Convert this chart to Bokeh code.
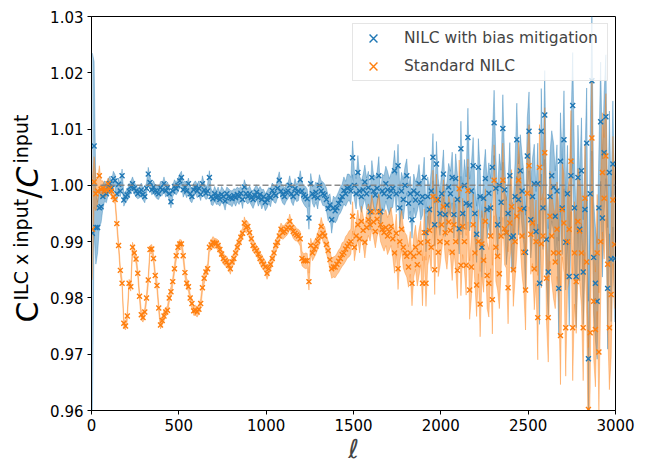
import numpy as np
from bokeh.plotting import figure
from bokeh.layouts import row
from bokeh.models import Span, Legend, LegendItem, Label, FixedTicker, NumeralTickFormatter, Range1d
from bokeh.embed import file_html
from bokeh.resources import INLINE

# multipole bin centres
ell = np.arange(5, 3000, 10)

series_labels = ["NILC with bias mitigation", "Standard NILC"]
x_ticks = [0, 500, 1000, 1500, 2000, 2500, 3000]
y_ticks = [0.96, 0.97, 0.98, 0.99, 1.00, 1.01, 1.02, 1.03]

blue_ratio = [
    0.9915, 1.0070, 0.9925, 0.9925, 0.9960, 0.9962, 0.9980, 0.9990, 0.9985, 0.9997,
    1.0003, 0.9995, 1.0012, 1.0008, 0.9985, 1.0002, 0.9990, 1.0017, 0.9974, 0.9980,
    0.9983, 0.9990, 0.9998, 1.0003, 0.9995, 0.9990, 0.9985, 0.9988, 0.9992, 0.9984,
    0.9980, 0.9995, 1.0020, 1.0005, 0.9992, 0.9997, 0.9990, 0.9988, 0.9985, 0.9996,
    0.9992, 1.0003, 0.9990, 0.9996, 0.9985, 0.9971, 0.9990, 0.9998, 0.9994, 1.0000,
    1.0008, 1.0014, 0.9992, 0.9997, 0.9990, 1.0003, 0.9985, 0.9980, 0.9992, 0.9997,
    0.9990, 0.9995, 0.9984, 1.0003, 0.9992, 0.9986, 0.9990, 1.0014, 0.9980, 0.9976,
    0.9985, 0.9978, 0.9982, 0.9975, 0.9984, 0.9980, 0.9972, 0.9985, 0.9980, 0.9978,
    0.9976, 0.9982, 0.9978, 0.9984, 0.9980, 0.9986, 0.9975, 0.9997, 0.9985, 0.9980,
    0.9985, 0.9978, 0.9975, 0.9982, 0.9988, 0.9978, 0.9984, 0.9975, 0.9980, 0.9970,
    0.9975, 0.9982, 0.9978, 0.9991, 0.9985, 0.9982, 0.9995, 1.0009, 0.9990, 0.9984,
    0.9980, 0.9988, 0.9990, 1.0000, 0.9985, 0.9980, 0.9994, 0.9986, 0.9990, 1.0010,
    0.9990, 0.9983, 0.9980, 0.9976, 0.9942, 1.0003, 0.9985, 0.9980, 0.9988, 0.9978,
    1.0000, 0.9990, 0.9985, 0.9983, 0.9975, 0.9959, 0.9965, 0.9939, 0.9960, 0.9955,
    0.9960, 0.9968, 0.9974, 0.9980, 0.9991, 0.9985, 0.9995, 0.9997, 0.9990, 1.0049,
    1.0000, 0.9985, 1.0023, 0.9990, 0.9980, 0.9992, 1.0006, 0.9985, 0.9996, 0.9953,
    1.0014, 0.9990, 0.9983, 0.9995, 1.0017, 0.9953, 0.9990, 0.9985, 1.0003, 0.9992,
    0.9980, 0.9990, 0.9995, 1.0026, 0.9985, 1.0035, 0.9960, 0.9990, 0.9975, 1.0000,
    1.0017, 0.9968, 0.9985, 0.9939, 0.9990, 0.9974, 0.9985, 1.0003, 0.9970, 0.9980,
    1.0014, 0.9916, 0.9980, 0.9957, 0.9990, 1.0050, 0.9930, 1.0038, 0.9975, 0.9950,
    0.9985, 1.0020, 0.9948, 0.9965, 0.9997, 0.9985, 1.0014, 0.9948, 1.0012, 0.9975,
    0.9923, 1.0065, 0.9950, 1.0000, 0.9968, 1.0085, 0.9965, 0.9990, 1.0035, 0.9950,
    0.9913, 1.0032, 0.9980, 0.9890, 0.9977, 1.0012, 0.9957, 0.9986, 0.9960, 1.0032,
    1.0111, 0.9995, 0.9930, 1.0000, 0.9970, 1.0101, 0.9992, 0.9916, 0.9950, 1.0017,
    0.9907, 0.9910, 0.9980, 1.0081, 0.9975, 1.0026, 0.9990, 0.9959, 0.9881, 1.0052,
    1.0096, 0.9939, 0.9980, 1.0003, 0.9918, 1.0003, 0.9826, 1.0096, 0.9960, 1.0125,
    0.9904, 0.9846, 0.9980, 1.0017, 0.9997, 0.9945, 0.9990, 0.9817, 1.0043, 0.9960,
    1.0081, 0.9899, 0.9985, 0.9838, 1.0017, 1.0142, 0.9960, 0.9838, 1.0014, 0.9922,
    1.0026, 0.9846, 0.9957, 1.0075, 0.9692, 0.9985, 1.0186, 0.9872, 0.9826, 0.9794,
    0.9960, 1.0113, 0.9942, 1.0058, 1.0122, 0.9817, 1.0023, 0.9869, 1.0038, 0.9870,
]

blue_err = [
    0.0320, 0.0150, 0.0065, 0.0045, 0.0035, 0.0028, 0.0022, 0.0018, 0.0016, 0.0014,
    0.0013, 0.0012, 0.0013, 0.0011, 0.0012, 0.0011, 0.0010, 0.0012, 0.0011, 0.0010,
    0.0010, 0.0011, 0.0009, 0.0012, 0.0010, 0.0011, 0.0009, 0.0010, 0.0012, 0.0010,
    0.0011, 0.0010, 0.0012, 0.0010, 0.0009, 0.0011, 0.0010, 0.0012, 0.0010, 0.0011,
    0.0010, 0.0012, 0.0011, 0.0010, 0.0012, 0.0011, 0.0010, 0.0012, 0.0011, 0.0012,
    0.0012, 0.0011, 0.0013, 0.0011, 0.0012, 0.0010, 0.0013, 0.0011, 0.0012, 0.0011,
    0.0012, 0.0013, 0.0011, 0.0014, 0.0012, 0.0011, 0.0013, 0.0012, 0.0014, 0.0012,
    0.0013, 0.0012, 0.0015, 0.0012, 0.0014, 0.0013, 0.0016, 0.0012, 0.0014, 0.0013,
    0.0014, 0.0012, 0.0015, 0.0013, 0.0014, 0.0012, 0.0016, 0.0013, 0.0015, 0.0013,
    0.0014, 0.0013, 0.0016, 0.0014, 0.0013, 0.0015, 0.0014, 0.0017, 0.0013, 0.0015,
    0.0015, 0.0014, 0.0016, 0.0013, 0.0015, 0.0014, 0.0017, 0.0015, 0.0014, 0.0016,
    0.0015, 0.0016, 0.0014, 0.0017, 0.0015, 0.0016, 0.0018, 0.0015, 0.0017, 0.0016,
    0.0017, 0.0016, 0.0018, 0.0017, 0.0020, 0.0018, 0.0017, 0.0019, 0.0018, 0.0020,
    0.0019, 0.0018, 0.0021, 0.0019, 0.0020, 0.0022, 0.0020, 0.0024, 0.0021, 0.0022,
    0.0022, 0.0021, 0.0023, 0.0022, 0.0024, 0.0022, 0.0025, 0.0023, 0.0024, 0.0030,
    0.0025, 0.0027, 0.0030, 0.0026, 0.0028, 0.0027, 0.0030, 0.0028, 0.0029, 0.0032,
    0.0030, 0.0028, 0.0031, 0.0029, 0.0034, 0.0031, 0.0030, 0.0032, 0.0031, 0.0033,
    0.0032, 0.0031, 0.0034, 0.0036, 0.0033, 0.0038, 0.0034, 0.0033, 0.0035, 0.0034,
    0.0030, 0.0029, 0.0031, 0.0033, 0.0030, 0.0032, 0.0031, 0.0034, 0.0032, 0.0033,
    0.0036, 0.0034, 0.0035, 0.0037, 0.0036, 0.0042, 0.0038, 0.0040, 0.0037, 0.0039,
    0.0040, 0.0043, 0.0039, 0.0041, 0.0042, 0.0040, 0.0045, 0.0042, 0.0044, 0.0043,
    0.0045, 0.0049, 0.0044, 0.0046, 0.0047, 0.0052, 0.0046, 0.0048, 0.0050, 0.0047,
    0.0050, 0.0051, 0.0049, 0.0053, 0.0050, 0.0052, 0.0051, 0.0054, 0.0052, 0.0055,
    0.0058, 0.0055, 0.0054, 0.0056, 0.0057, 0.0060, 0.0058, 0.0057, 0.0058, 0.0059,
    0.0061, 0.0060, 0.0062, 0.0065, 0.0063, 0.0064, 0.0065, 0.0064, 0.0066, 0.0068,
    0.0070, 0.0068, 0.0069, 0.0070, 0.0071, 0.0072, 0.0073, 0.0076, 0.0074, 0.0079,
    0.0076, 0.0077, 0.0078, 0.0080, 0.0079, 0.0081, 0.0082, 0.0084, 0.0086, 0.0083,
    0.0087, 0.0085, 0.0086, 0.0088, 0.0089, 0.0094, 0.0090, 0.0091, 0.0093, 0.0092,
    0.0094, 0.0093, 0.0095, 0.0098, 0.0102, 0.0097, 0.0125, 0.0100, 0.0101, 0.0103,
    0.0104, 0.0106, 0.0105, 0.0107, 0.0110, 0.0108, 0.0109, 0.0111, 0.0112, 0.0113,
]

orange_ratio = [
    0.9922, 1.0006, 0.9985, 0.9990, 1.0017, 0.9993, 0.9995, 0.9990, 0.9992, 1.0003,
    0.9994, 0.9990, 0.9980, 0.9975, 0.9932, 0.9893, 0.9849, 0.9826, 0.9755, 0.9750,
    0.9768, 0.9826, 0.9820, 0.9890, 0.9880, 0.9869, 0.9844, 0.9803, 0.9770, 0.9765,
    0.9775, 0.9800, 0.9832, 0.9886, 0.9887, 0.9870, 0.9840, 0.9822, 0.9782, 0.9752,
    0.9760, 0.9768, 0.9775, 0.9778, 0.9800, 0.9811, 0.9829, 0.9852, 0.9875, 0.9890,
    0.9896, 0.9896, 0.9875, 0.9845, 0.9826, 0.9820, 0.9800, 0.9790, 0.9777, 0.9778,
    0.9775, 0.9780, 0.9790, 0.9818, 0.9835, 0.9846, 0.9852, 0.9890, 0.9894, 0.9899,
    0.9897, 0.9897, 0.9893, 0.9886, 0.9878, 0.9870, 0.9866, 0.9864, 0.9858, 0.9852,
    0.9864, 0.9870, 0.9880, 0.9890, 0.9899, 0.9908, 0.9915, 0.9933, 0.9925, 0.9927,
    0.9916, 0.9905, 0.9893, 0.9888, 0.9884, 0.9878, 0.9870, 0.9865, 0.9860, 0.9855,
    0.9844, 0.9852, 0.9860, 0.9870, 0.9880, 0.9893, 0.9899, 0.9910, 0.9922, 0.9916,
    0.9918, 0.9922, 0.9925, 0.9936, 0.9925, 0.9918, 0.9915, 0.9912, 0.9910, 0.9905,
    0.9870, 0.9866, 0.9866, 0.9866, 0.9829, 0.9893, 0.9880, 0.9887, 0.9892, 0.9901,
    0.9910, 0.9927, 0.9915, 0.9910, 0.9895, 0.9884, 0.9868, 0.9852, 0.9855, 0.9855,
    0.9860, 0.9865, 0.9870, 0.9877, 0.9880, 0.9887, 0.9892, 0.9896, 0.9900, 0.9945,
    0.9890, 0.9910, 0.9930, 0.9905, 0.9936, 0.9920, 0.9899, 0.9925, 0.9939, 0.9930,
    0.9953, 0.9935, 0.9918, 0.9940, 0.9953, 0.9930, 0.9922, 0.9916, 0.9925, 0.9910,
    0.9918, 0.9927, 0.9905, 0.9880, 0.9915, 0.9852, 0.9900, 0.9922, 0.9890, 0.9880,
    0.9874, 0.9855, 0.9880, 0.9826, 0.9874, 0.9890, 0.9859, 0.9880, 0.9898, 0.9826,
    0.9916, 0.9826, 0.9900, 0.9920, 0.9890, 0.9980, 0.9850, 0.9974, 0.9881, 0.9900,
    0.9930, 0.9962, 0.9916, 0.9898, 0.9935, 0.9920, 0.9881, 0.9930, 0.9900, 0.9849,
    0.9994, 0.9858, 0.9927, 0.9900, 0.9858, 0.9991, 0.9814, 0.9855, 0.9930, 0.9880,
    0.9823, 0.9900, 0.9789, 0.9896, 0.9867, 0.9936, 0.9840, 0.9826, 0.9910, 0.9797,
    1.0009, 0.9890, 0.9874, 0.9843, 0.9910, 1.0009, 0.9923, 0.9916, 0.9818, 0.9933,
    0.9962, 0.9850, 0.9900, 0.9945, 1.0009, 0.9957, 0.9910, 0.9881, 0.9814, 0.9986,
    1.0035, 0.9913, 0.9933, 0.9852, 0.9900, 0.9765, 1.0032, 0.9896, 0.9910, 1.0058,
    0.9835, 0.9765, 0.9945, 0.9910, 0.9880, 0.9864, 0.9922, 0.9880, 0.9733, 0.9957,
    0.9933, 0.9747, 0.9900, 0.9922, 1.0043, 0.9747, 0.9880, 0.9829, 0.9936, 0.9919,
    0.9880, 0.9747, 0.9977, 0.9864, 0.9602, 0.9738, 1.0084, 0.9794, 0.9744, 0.9880,
    0.9704, 0.9900, 1.0023, 0.9977, 1.0052, 0.9860, 0.9747, 0.9806, 0.9974, 0.9895,
]

orange_err = [
    0.0090, 0.0045, 0.0030, 0.0022, 0.0018, 0.0015, 0.0013, 0.0012, 0.0011, 0.0010,
    0.0010, 0.0009, 0.0009, 0.0008, 0.0008, 0.0008, 0.0008, 0.0007, 0.0008, 0.0007,
    0.0008, 0.0007, 0.0008, 0.0009, 0.0007, 0.0008, 0.0007, 0.0008, 0.0009, 0.0008,
    0.0007, 0.0008, 0.0009, 0.0007, 0.0008, 0.0008, 0.0007, 0.0009, 0.0008, 0.0007,
    0.0008, 0.0009, 0.0007, 0.0008, 0.0008, 0.0009, 0.0007, 0.0008, 0.0009, 0.0008,
    0.0008, 0.0007, 0.0009, 0.0008, 0.0009, 0.0008, 0.0007, 0.0009, 0.0008, 0.0009,
    0.0009, 0.0008, 0.0009, 0.0008, 0.0010, 0.0008, 0.0009, 0.0009, 0.0008, 0.0010,
    0.0009, 0.0008, 0.0010, 0.0009, 0.0008, 0.0010, 0.0009, 0.0010, 0.0008, 0.0010,
    0.0009, 0.0010, 0.0009, 0.0011, 0.0009, 0.0010, 0.0009, 0.0011, 0.0010, 0.0009,
    0.0010, 0.0009, 0.0011, 0.0010, 0.0009, 0.0011, 0.0010, 0.0012, 0.0010, 0.0011,
    0.0011, 0.0010, 0.0011, 0.0010, 0.0012, 0.0011, 0.0010, 0.0012, 0.0011, 0.0012,
    0.0011, 0.0012, 0.0011, 0.0013, 0.0011, 0.0012, 0.0013, 0.0011, 0.0012, 0.0013,
    0.0013, 0.0012, 0.0014, 0.0013, 0.0015, 0.0013, 0.0014, 0.0015, 0.0014, 0.0015,
    0.0015, 0.0016, 0.0015, 0.0017, 0.0016, 0.0017, 0.0018, 0.0017, 0.0018, 0.0019,
    0.0019, 0.0020, 0.0019, 0.0021, 0.0020, 0.0022, 0.0021, 0.0023, 0.0022, 0.0026,
    0.0024, 0.0025, 0.0026, 0.0025, 0.0027, 0.0026, 0.0028, 0.0027, 0.0028, 0.0029,
    0.0030, 0.0028, 0.0029, 0.0031, 0.0032, 0.0030, 0.0031, 0.0033, 0.0032, 0.0033,
    0.0033, 0.0034, 0.0033, 0.0036, 0.0034, 0.0037, 0.0035, 0.0036, 0.0037, 0.0036,
    0.0037, 0.0036, 0.0038, 0.0040, 0.0037, 0.0039, 0.0038, 0.0041, 0.0039, 0.0040,
    0.0042, 0.0041, 0.0043, 0.0044, 0.0042, 0.0047, 0.0044, 0.0046, 0.0043, 0.0045,
    0.0046, 0.0048, 0.0045, 0.0047, 0.0048, 0.0046, 0.0050, 0.0048, 0.0049, 0.0050,
    0.0051, 0.0054, 0.0050, 0.0052, 0.0053, 0.0056, 0.0052, 0.0054, 0.0055, 0.0053,
    0.0056, 0.0057, 0.0058, 0.0059, 0.0057, 0.0058, 0.0059, 0.0060, 0.0058, 0.0061,
    0.0063, 0.0061, 0.0060, 0.0062, 0.0063, 0.0066, 0.0064, 0.0063, 0.0064, 0.0065,
    0.0066, 0.0065, 0.0067, 0.0069, 0.0068, 0.0069, 0.0070, 0.0069, 0.0071, 0.0072,
    0.0073, 0.0071, 0.0072, 0.0073, 0.0074, 0.0075, 0.0076, 0.0078, 0.0077, 0.0080,
    0.0078, 0.0079, 0.0080, 0.0082, 0.0081, 0.0083, 0.0084, 0.0085, 0.0087, 0.0084,
    0.0088, 0.0086, 0.0087, 0.0089, 0.0090, 0.0094, 0.0091, 0.0092, 0.0094, 0.0093,
    0.0095, 0.0094, 0.0096, 0.0099, 0.0110, 0.0098, 0.0105, 0.0101, 0.0102, 0.0104,
    0.0105, 0.0107, 0.0106, 0.0108, 0.0111, 0.0109, 0.0110, 0.0112, 0.0113, 0.0114,
]

assert len(ell) == len(blue_ratio) == len(blue_err) == len(orange_ratio) == len(orange_err)

BLUE = "#1f77b4"
ORANGE = "#ff7f0e"
FONT = "DejaVu Sans"
W, H = 646, 466
LABEL_W = 46

b = np.array(blue_ratio); be = np.array(blue_err)
o = np.array(orange_ratio); oe = np.array(orange_err)

p = figure(width=W - LABEL_W, height=H, output_backend="svg", toolbar_location=None,
           x_range=(0, 3000), y_range=(0.96, 1.03),
           min_border_left=91 - LABEL_W, min_border_right=31, min_border_top=16, min_border_bottom=48)
p.background_fill_color = "white"
p.border_fill_color = "white"
p.outline_line_color = "black"
p.outline_line_width = 1
p.xgrid.visible = False
p.ygrid.visible = False

# error bands (filled, with faint edges like matplotlib's fill_between)
for y, e, col in ((b, be, BLUE), (o, oe, ORANGE)):
    p.varea(x=ell, y1=y - e, y2=y + e, fill_color=col, fill_alpha=0.45)
    p.line(x=ell, y=y + e, line_color=col, line_alpha=0.35, line_width=1)
    p.line(x=ell, y=y - e, line_color=col, line_alpha=0.35, line_width=1)

p.add_layout(Span(location=1.0, dimension="width", line_color="#7f7f7f",
                  line_dash="6 3", line_width=1.5, line_alpha=0.9))

rb = p.scatter(x=ell, y=b, marker="x", size=7, line_color=BLUE, line_width=1.4)
ro = p.scatter(x=ell, y=o, marker="x", size=7, line_color=ORANGE, line_width=1.4)

legend = Legend(items=[LegendItem(label=series_labels[0], renderers=[rb]),
                       LegendItem(label=series_labels[1], renderers=[ro])],
                location="top_right", margin=7,
                padding=dict(left=0, right=6, top=0, bottom=0), spacing=0,
                glyph_width=40, glyph_height=28, label_standoff=11, label_width=197,
                label_text_font=FONT, label_text_font_size="15.5px",
                border_line_color="#cccccc", border_line_width=1,
                background_fill_alpha=0.8)
p.add_layout(legend)

for ax in (p.xaxis[0], p.yaxis[0]):
    ax.axis_line_color = "black"
    ax.major_tick_line_color = "black"
    ax.major_tick_out = 4
    ax.major_tick_in = 0
    ax.minor_tick_out = 0
    ax.minor_tick_in = 0
    ax.major_label_text_font = FONT
    ax.major_label_text_font_size = "15px"
    ax.major_label_text_color = "black"
    ax.major_label_standoff = 4

p.xaxis.ticker = FixedTicker(ticks=x_ticks)
p.yaxis.ticker = FixedTicker(ticks=y_ticks)
p.yaxis.formatter = NumeralTickFormatter(format="0.00")
p.xaxis.formatter = NumeralTickFormatter(format="0")

p.xaxis.axis_label = "ℓ"
p.xaxis.axis_label_text_font = FONT
p.xaxis.axis_label_text_font_size = "26px"
p.xaxis.axis_label_text_font_style = "italic"
p.xaxis.axis_label_standoff = 0

# narrow strip on the left that carries the y-axis label C^{ILC x input} / C^{input}
lab = figure(width=LABEL_W, height=H, output_backend="svg", toolbar_location=None,
             x_range=Range1d(0, LABEL_W), y_range=Range1d(0, H),
             x_axis_location=None, y_axis_location=None,
             min_border=0, outline_line_color=None)
lab.xgrid.visible = False
lab.ygrid.visible = False
lab.background_fill_color = "white"
lab.border_fill_color = "white"

ylabel_parts = [
    ("C", "30px", "normal", 27, 88),
    ("ILC x input", "19px", "normal", 20, 110),
    ("/", "30px", "normal", 28, 212),
    ("C", "30px", "italic", 27, 223),
    ("input", "19px", "normal", 20, 247),
]
for txt, fs, style, xs, ys in ylabel_parts:
    lab.add_layout(Label(x=xs, y=ys, x_units="screen", y_units="screen", text=txt,
                         angle=np.pi / 2, text_font=FONT, text_font_size=fs,
                         text_font_style=style, text_color="black",
                         text_align="left", text_baseline="alphabetic"))

layout = row(lab, p, spacing=0)
open("out.html", "w").write(file_html(layout, INLINE))
